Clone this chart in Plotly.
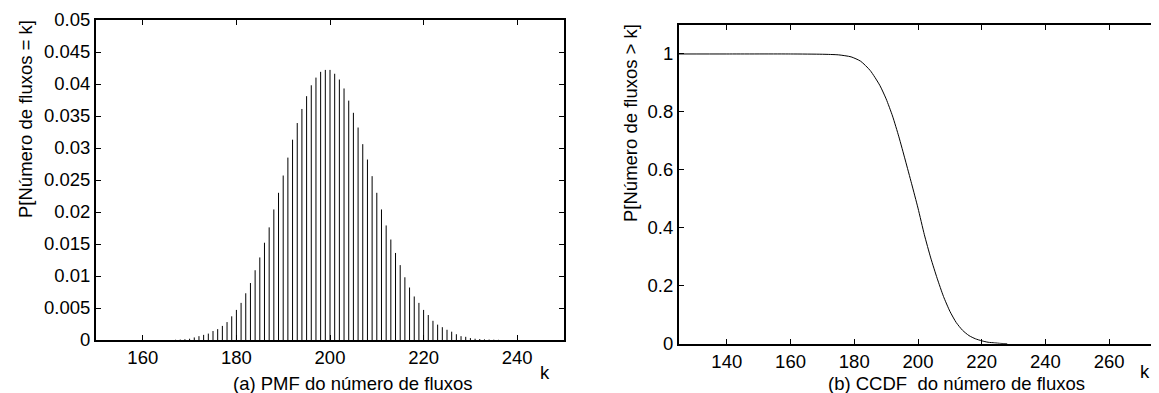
import plotly.graph_objects as go

W, H = 1159, 393

# ---- data: PMF (stem plot) ----
pmf_k = list(range(166, 238))
pmf_p = [0.00002, 0.00004, 0.00007, 0.00012, 0.0002,
         0.0004, 0.0006, 0.0008, 0.0010, 0.0014, 0.0017, 0.0022, 0.0028, 0.0037,
         0.0047, 0.0058, 0.0073, 0.0089, 0.0109, 0.0129, 0.0152, 0.0176, 0.0204,
         0.0230, 0.0257, 0.0285, 0.0313, 0.0339, 0.0361, 0.0381, 0.0398, 0.0410,
         0.0419, 0.0422, 0.0422, 0.0416, 0.0407, 0.0393, 0.0374, 0.0355, 0.0332,
         0.0306, 0.0282, 0.0256, 0.0230, 0.0204, 0.0179, 0.0157, 0.0136, 0.0117,
         0.0098, 0.0082, 0.0068, 0.0058, 0.0047, 0.0039, 0.0030, 0.0024, 0.0020,
         0.0016, 0.0013, 0.0009, 0.0006, 0.0005, 0.0003, 0.0002, 0.00015, 0.0001,
         0.00007, 0.00005, 0.00003, 0.00002]

# ---- data: CCDF ----
ccdf_k = [125, 140, 160, 170, 175, 179, 182, 185, 188, 190, 192, 194, 196, 198,
          200, 202, 204, 206, 208, 210, 212, 214, 216, 218, 220, 222, 224, 226, 228]
ccdf_p = [1.0, 1.0, 1.0, 0.999, 0.997, 0.990, 0.975, 0.943, 0.892, 0.845, 0.786,
          0.714, 0.634, 0.552, 0.468, 0.376, 0.296, 0.226, 0.163, 0.112, 0.073,
          0.046, 0.028, 0.017, 0.010, 0.005, 0.003, 0.001, 0.0]

# ---- tick labels ----
left_yticks = [0, 0.005, 0.01, 0.015, 0.02, 0.025, 0.03, 0.035, 0.04, 0.045, 0.05]
left_yticktext = ["0", "0.005", "0.01", "0.015", "0.02", "0.025", "0.03", "0.035",
                  "0.04", "0.045", "0.05"]
left_xticks = [160, 180, 200, 220, 240]
right_xticks = [140, 160, 180, 200, 220, 240, 260]
right_yticks = [0, 0.2, 0.4, 0.6, 0.8, 1]
right_yticktext = ["0", "0.2", "0.4", "0.6", "0.8", "1"]

FONT = "Liberation Sans, Arial, sans-serif"
FS = 18.5

def px(x):
    return x / W

def py(y):
    return 1 - y / H

# stems built from the PMF arrays
sx, sy = [], []
for k, p in zip(pmf_k, pmf_p):
    sx += [k, k, None]
    sy += [0, p, None]

fig = go.Figure()
fig.add_trace(go.Scatter(x=sx, y=sy, mode="lines", line=dict(color="black", width=1),
                         xaxis="x", yaxis="y", showlegend=False, hoverinfo="skip"))
fig.add_trace(go.Scatter(x=ccdf_k, y=ccdf_p, mode="lines",
                         line=dict(color="black", width=1, shape="spline", smoothing=0.6),
                         xaxis="x2", yaxis="y2", showlegend=False))

axis_common = dict(showgrid=False, zeroline=False, showline=True, linecolor="black",
                   linewidth=2, mirror="ticks", ticks="inside", ticklen=5,
                   tickcolor="black", tickwidth=1, automargin=False,
                   tickfont=dict(family=FONT, size=FS, color="black"))

fig.update_layout(
    template="none",
    width=W, height=H,
    autosize=False,
    margin=dict(l=0, r=0, t=0, b=0, pad=0, autoexpand=False),
    paper_bgcolor="white", plot_bgcolor="white",
    xaxis=dict(domain=[px(88), px(556)], range=[150, 250], tickvals=left_xticks,
               anchor="y", **axis_common),
    yaxis=dict(domain=[py(332), py(12)], range=[0, 0.05], tickvals=left_yticks,
               ticktext=left_yticktext, anchor="x", **axis_common),
    xaxis2=dict(domain=[px(671), px(1149)], range=[125, 275], tickvals=right_xticks,
                anchor="y2", **axis_common),
    yaxis2=dict(domain=[py(335.7), py(17)], range=[0, 1.1], tickvals=right_yticks,
                ticktext=right_yticktext, anchor="x2", **axis_common),
)

ann_font = dict(family=FONT, size=FS, color="black")
anns = [
    dict(text="(a) PMF do número de fluxos", x=px(345), y=py(375)),
    dict(text="(b) CCDF  do número de fluxos", x=px(948), y=py(375)),
    dict(text="k", x=px(537), y=py(364)),
    dict(text="k", x=px(1137), y=py(363)),
    dict(text="P[Número de fluxos = k]", x=px(17), y=py(111), textangle=-90),
    dict(text="P[Número de fluxos > k]", x=px(622), y=py(115), textangle=-90),
]
for a in anns:
    fig.add_annotation(xref="paper", yref="paper", showarrow=False,
                       xanchor="center", yanchor="middle", font=ann_font, **a)

fig.write_html("out.html", config={"displayModeBar": False})
